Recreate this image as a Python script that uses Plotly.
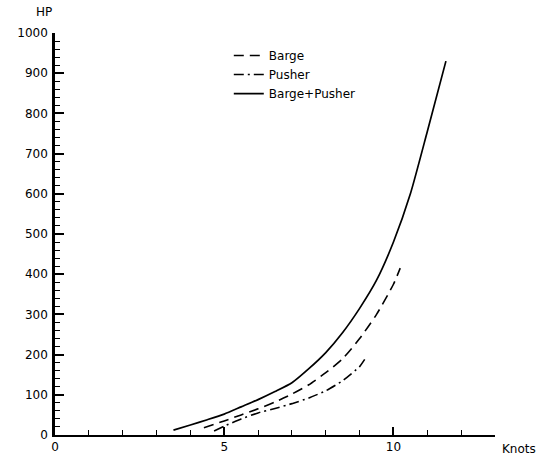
import plotly.graph_objects as go

# Barge+Pusher (solid)
bp_knots = [3.5, 4.0, 4.5, 5.0, 5.5, 6.0, 6.5, 7.0, 7.5, 8.0, 8.5, 9.0, 9.5, 10.0, 10.5, 11.0, 11.55]
bp_hp = [12, 25, 38, 52, 70, 88, 108, 130, 165, 205, 255, 315, 385, 480, 600, 755, 930]

# Barge (dashed)
barge_knots = [4.4, 5.0, 5.5, 6.0, 6.5, 7.0, 7.5, 8.0, 8.5, 9.0, 9.5, 10.0, 10.2]
barge_hp = [18, 35, 50, 65, 82, 102, 125, 155, 190, 240, 300, 375, 415]

# Pusher (dash-dot)
pusher_knots = [4.7, 5.0, 5.5, 6.0, 6.5, 7.0, 7.5, 8.0, 8.5, 9.0, 9.15]
pusher_hp = [10, 22, 40, 55, 66, 78, 92, 110, 135, 170, 188]

FONT = "DejaVu Sans"

fig = go.Figure()
fig.add_trace(go.Scatter(x=barge_knots, y=barge_hp, mode="lines", name="Barge",
                         line=dict(color="black", width=1.6, dash="10px,6px",
                                   shape="spline", smoothing=0.6)))
fig.add_trace(go.Scatter(x=pusher_knots, y=pusher_hp, mode="lines", name="Pusher",
                         line=dict(color="black", width=1.6, dash="10px,4px,2px,4px",
                                   shape="spline", smoothing=0.4)))
fig.add_trace(go.Scatter(x=bp_knots, y=bp_hp, mode="lines", name="Barge+Pusher",
                         line=dict(color="black", width=1.7, shape="spline", smoothing=0.6)))

fig.update_layout(
    width=546, height=456,
    margin=dict(l=55, r=51, t=33, b=21),
    paper_bgcolor="white", plot_bgcolor="white",
    font=dict(family=FONT, size=12, color="black"),
    showlegend=True,
    legend=dict(x=0.395, y=0.98, xanchor="left", yanchor="top",
                bgcolor="rgba(0,0,0,0)",
                font=dict(family=FONT, size=12), tracegroupgap=0),
    xaxis=dict(range=[0, 13], tickmode="linear", tick0=0, dtick=5,
               showgrid=False, zeroline=False, showline=True, linecolor="black", linewidth=2,
               ticks="inside", ticklen=8, tickwidth=2, tickcolor="black",
               minor=dict(tickmode="linear", tick0=0, dtick=1, ticks="inside", ticklen=5,
                          tickcolor="black", tickwidth=1, showgrid=False),
               ticklabelstandoff=0, automargin=False,
               tickfont=dict(family=FONT, size=12)),
    yaxis=dict(range=[0, 1000], tickmode="linear", tick0=0, dtick=100,
               showgrid=False, zeroline=False, showline=True, linecolor="black", linewidth=2.5,
               ticks="inside", ticklen=9, tickwidth=2, tickcolor="black",
               minor=dict(tickmode="linear", tick0=0, dtick=20, ticks="inside", ticklen=5,
                          tickcolor="black", tickwidth=1, showgrid=False),
               ticklabelstandoff=2, automargin=False,
               tickfont=dict(family=FONT, size=12)),
    annotations=[
        dict(text="HP", xref="paper", yref="paper", x=-0.025, y=1.0, yshift=12,
             xanchor="center", yanchor="bottom", showarrow=False,
             font=dict(family=FONT, size=12)),
        dict(text="Knots", xref="paper", yref="paper", x=1.0, y=0, xshift=24, yshift=-5,
             xanchor="center", yanchor="top", showarrow=False,
             font=dict(family=FONT, size=12)),
    ],
)

fig.write_html("out.html")
